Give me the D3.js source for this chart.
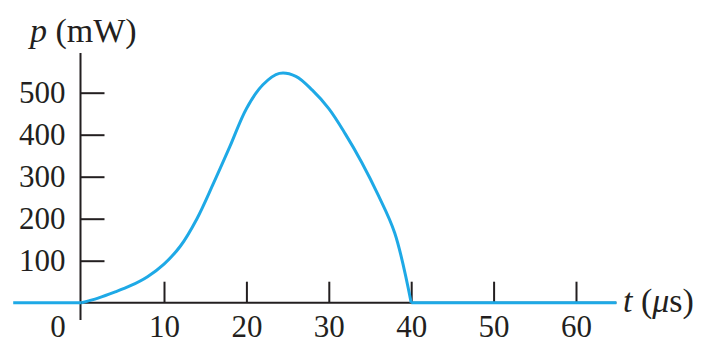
<!DOCTYPE html>
<html>
<head>
<meta charset="utf-8">
<script src="https://cdn.jsdelivr.net/npm/d3@7"></script>
<style>
  body { margin: 0; background: #fff; }
  svg { display: block; }
</style>
</head>
<body>
<svg id="chart"></svg>
<script>
// pulse p(t)
const tValues = [0, 2, 4, 6, 8, 10, 12, 14, 16, 18, 20, 22, 24, 26, 28, 30, 32, 34, 36, 38, 40];
const pValues = [0, 11, 25, 41, 62, 92, 135, 200, 284, 372, 462, 519, 546, 539, 506, 462, 402, 334, 256, 166, 0];
// flat zero parts either side of the pulse
const flatBefore = [-8.3, 0];
const flatAfter = [40, 64.9];
const xTicks = [10, 20, 30, 40, 50, 60];
const yTicks = [100, 200, 300, 400, 500];

const width = 704, height = 344;
const axisColor = "#231f20";
const curveColor = "#1ea9e6";
const font = "'Liberation Serif', 'Times New Roman', serif";
const tickSize = "31px";
const labelSize = "34px";

const svg = d3.select("#chart").attr("width", width).attr("height", height);

const x = d3.scaleLinear().domain([0, 60]).range([81.6, 576]);
const y = d3.scaleLinear().domain([0, 500]).range([302.7, 92.7]);

// axis lines
svg.append("line")
    .attr("x1", 80.5).attr("x2", x(64.9))
    .attr("y1", y(0)).attr("y2", y(0))
    .style("stroke", axisColor).style("stroke-width", 2);
svg.append("line")
    .attr("x1", 80.5).attr("x2", 80.5)
    .attr("y1", 53).attr("y2", 320)
    .style("stroke", axisColor).style("stroke-width", 2);

// x ticks
const xAxis = d3.axisBottom(x)
    .tickValues(xTicks)
    .tickSizeInner(-21)
    .tickSizeOuter(0)
    .tickPadding(12);
const gx = svg.append("g")
    .attr("transform", `translate(0,${y(0)})`)
    .call(xAxis);
gx.select(".domain").remove();
gx.selectAll(".tick line").style("stroke", axisColor).style("stroke-width", 2);
gx.selectAll(".tick text")
    .style("font-family", font).style("font-size", tickSize).style("fill", axisColor);

svg.append("text")
    .attr("x", 58).attr("y", y(0) + 34)
    .attr("text-anchor", "middle")
    .style("font-family", font).style("font-size", tickSize).style("fill", axisColor)
    .text("0");

// y ticks
const yAxis = d3.axisLeft(y)
    .tickValues(yTicks)
    .tickSizeInner(-24)
    .tickSizeOuter(0)
    .tickPadding(15);
const gy = svg.append("g")
    .attr("transform", "translate(80.5,0)")
    .call(yAxis);
gy.select(".domain").remove();
gy.selectAll(".tick line").style("stroke", axisColor).style("stroke-width", 2);
gy.selectAll(".tick text")
    .style("font-family", font).style("font-size", tickSize).style("fill", axisColor);

// curve
const pulse = tValues.map((t, i) => ({ t: t, p: pValues[i] }));
const line = d3.line()
    .x(d => x(d.t))
    .y(d => y(d.p))
    .curve(d3.curveCatmullRom.alpha(0.5));

[flatBefore, flatAfter].forEach(seg => {
    svg.append("path")
        .datum(seg.map(t => ({ t: t, p: 0 })))
        .attr("d", d3.line().x(d => x(d.t)).y(d => y(d.p)))
        .style("fill", "none")
        .style("stroke", curveColor)
        .style("stroke-width", 3);
});

svg.append("path")
    .datum(pulse)
    .attr("d", line)
    .style("fill", "none")
    .style("stroke", curveColor)
    .style("stroke-width", 3)
    .style("stroke-linejoin", "round");

// axis labels
const pLabel = svg.append("text")
    .attr("x", 30).attr("y", 42)
    .style("font-family", font).style("font-size", labelSize).style("fill", axisColor);
pLabel.append("tspan").style("font-style", "italic").text("p");
pLabel.append("tspan").text(" (mW)");

const tLabel = svg.append("text")
    .attr("x", 623).attr("y", 312)
    .style("font-family", font).style("font-size", labelSize).style("fill", axisColor);
tLabel.append("tspan").style("font-style", "italic").text("t");
tLabel.append("tspan").text(" (");
tLabel.append("tspan").style("font-style", "italic").text("μ");
tLabel.append("tspan").text("s)");
</script>
</body>
</html>
